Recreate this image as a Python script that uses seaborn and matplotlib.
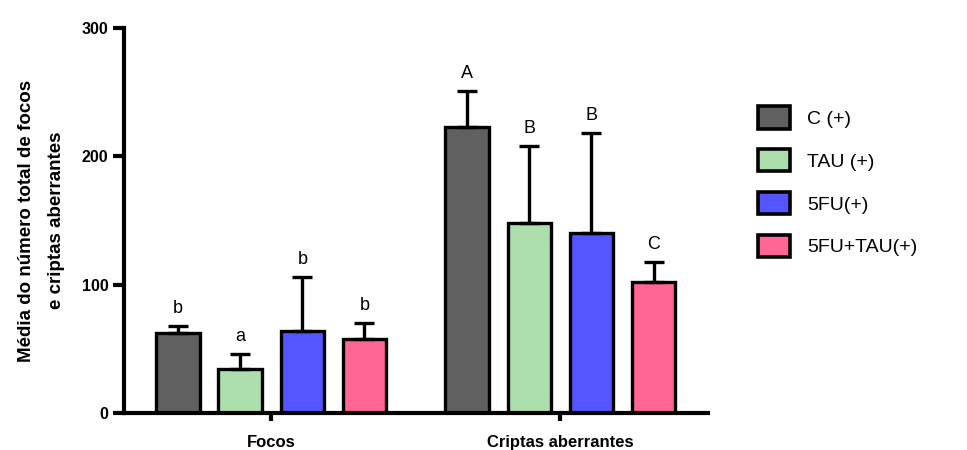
import matplotlib
matplotlib.use("Agg")
import matplotlib.pyplot as plt
import seaborn as sns
import pandas as pd
import numpy as np

groups = ["Focos", "Criptas aberrantes"]
treatments = ["C (+)", "TAU (+)", "5FU(+)", "5FU+TAU(+)"]
means_focos = [62, 34, 64, 58]
means_criptas = [223, 148, 140, 102]
err_focos = [6, 12, 42, 12]
err_criptas = [28, 60, 78, 16]
letters_focos = ["b", "a", "b", "b"]
letters_criptas = ["A", "B", "B", "C"]
colors = ["#606060", "#ADDFAD", "#5555FF", "#FF6694"]

rows = []
for g, ms, es, ls in [(groups[0], means_focos, err_focos, letters_focos),
                      (groups[1], means_criptas, err_criptas, letters_criptas)]:
    for t, m, e, l in zip(treatments, ms, es, ls):
        rows.append(dict(group=g, treat=t, mean=m, err=e, letter=l))
df = pd.DataFrame(rows)

sns.set_style("ticks", {"axes.edgecolor": "black", "text.color": "black",
                        "xtick.color": "black", "ytick.color": "black",
                        "axes.labelcolor": "black"})
plt.rcParams['font.family'] = ['Liberation Sans', 'DejaVu Sans']

fig = plt.figure(figsize=(9.67, 4.5), dpi=100)
ax = fig.add_axes([0.128, 0.082, 0.604, 0.856])

sns.barplot(data=df, x="group", y="mean", hue="treat", order=groups,
            hue_order=treatments, palette=colors, width=0.86, gap=0.3,
            edgecolor="black", linewidth=2.4, errorbar=None, ax=ax,
            saturation=1)

# error bars and letters (bars drawn hue by hue, each over both groups)
bars = [p for p in ax.patches if p.get_height() > 0]
lookup = {}
k = 0
for t in treatments:
    for g in groups:
        lookup[(t, g)] = bars[k]
        k += 1
for _, r in df.iterrows():
    p = lookup[(r["treat"], r["group"])]
    xc = p.get_x() + p.get_width() / 2
    ax.errorbar([xc], [r["mean"]], yerr=[[0], [r["err"]]], fmt="none",
                ecolor="black", elinewidth=2.4, capsize=7, capthick=2.4,
                zorder=1)
    ax.annotate(r["letter"], (xc, r["mean"] + r["err"]), xytext=(0, 6.5),
                textcoords="offset points", ha="center", va="bottom",
                fontsize=13, color="black")

ax.set_xlim(-0.51, 1.51)
ax.set_ylim(0, 300)
ax.set_yticks([0, 100, 200, 300])
ax.set_xlabel("")
ax.set_ylabel("Média do número total de focos\ne criptas aberrantes",
              fontsize=13.5, fontweight="bold", labelpad=12, linespacing=2.0)
for s in ["top", "right"]:
    ax.spines[s].set_visible(False)
for s in ["left", "bottom"]:
    ax.spines[s].set_linewidth(3)
ax.tick_params(axis="y", length=8, width=3, labelsize=11.5, pad=3)
ax.tick_params(axis="x", length=6, width=3, labelsize=12, pad=10)
for lab in ax.get_xticklabels() + ax.get_yticklabels():
    lab.set_fontweight("bold")

ax.get_legend().remove()
handles = [plt.Rectangle((0, 0), 1, 1, facecolor=c, edgecolor="black", linewidth=2.6)
           for c in colors]
fig.legend(handles, treatments, loc="upper left", bbox_to_anchor=(0.766, 0.803),
           frameon=False, fontsize=14, handlelength=1.65, handleheight=1.4,
           labelspacing=1.05, handletextpad=0.85)

fig.savefig("out.png", dpi=100)
